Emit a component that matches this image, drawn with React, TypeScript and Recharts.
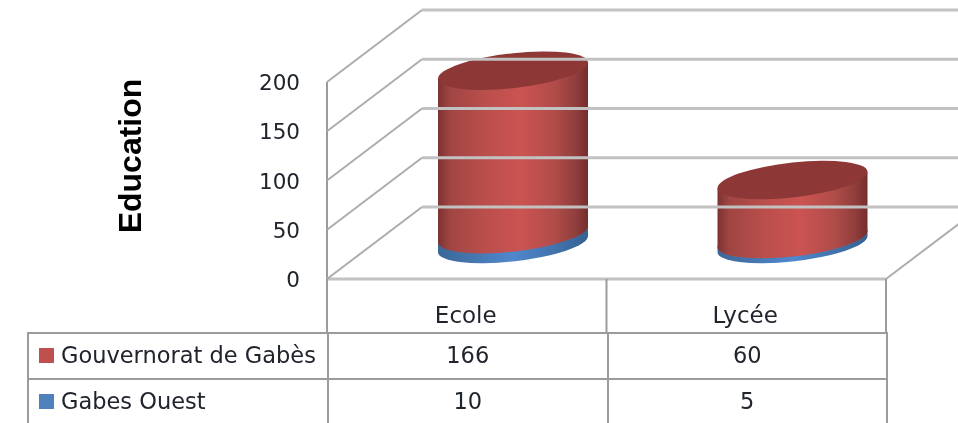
import React from "react";
import { BarChart, Bar, XAxis, YAxis, Label } from "recharts";

const categories = ["Ecole", "Lycée"];
const gouvernorat = [166, 60];
const gabesOuest = [10, 5];
const yTicks = [0, 50, 100, 150, 200];
const seriesNames = ["Gouvernorat de Gabès", "Gabes Ouest"];
const rows = categories.map((c, i) => ({ name: c, gouv: gouvernorat[i], ouest: gabesOuest[i] }));

const W = 958, H = 423;
const PLOT_LEFT = 327, PLOT_RIGHT = 886, PLOT_TOP = 82, PLOT_BOTTOM = 279, TABLE_TOP = 333;
const DX = 95, DY = 72;
const GRID = "#c2c2c2", SIDE = "#adadad", FRAME = "#9b9b9b";
const FONT = "'DejaVu Sans', sans-serif";
const TEXT = "#20242c";
const FS = 21.5;
const TABLE_FS = 22.5;

const YTick = (p: any) => {
  const y = p.y;
  const isFloor = p.payload.value === 0;
  return (
    <g>
      <line x1={PLOT_LEFT} y1={y} x2={PLOT_LEFT + DX} y2={y - DY} stroke={SIDE} strokeWidth={2} />
      <line x1={PLOT_LEFT + DX} y1={y - DY} x2={W} y2={y - DY} stroke={GRID} strokeWidth={3} />
      {isFloor && (
        <line x1={PLOT_RIGHT} y1={y} x2={PLOT_RIGHT + DX} y2={y - DY} stroke={SIDE} strokeWidth={2} />
      )}
      <text x={PLOT_LEFT - 27} y={y + 8} textAnchor="end" fontFamily={FONT} fontSize={FS} fill={TEXT}>
        {p.payload.value}
      </text>
    </g>
  );
};

const XTick = (p: any) => {
  const half = (PLOT_RIGHT - PLOT_LEFT) / categories.length / 2;
  return (
    <g>
      {p.index === 0 && (
        <line x1={p.x - half} y1={PLOT_BOTTOM} x2={p.x - half} y2={TABLE_TOP} stroke={FRAME} strokeWidth={2} />
      )}
      <line x1={p.x + half} y1={PLOT_BOTTOM} x2={p.x + half} y2={TABLE_TOP} stroke={FRAME} strokeWidth={2} />
      <text x={p.x - 1} y={PLOT_BOTTOM + 44} textAnchor="middle" fontFamily={FONT} fontSize={TABLE_FS + 0.5} fill={TEXT}>
        {p.payload.value}
      </text>
    </g>
  );
};

const Cylinder = (p: any) => {
  const { x, y, width, height, bodyId, cap } = p;
  const rx = width / 2;
  const ry = 17.5;
  const shear = -0.107;
  const cx = x + rx + DX / 2 - 1.5;
  const top = y - DY / 2 + 1;
  const bottom = y + height - DY / 2 + 1;
  const t = (yy: number) => `matrix(1 ${shear} 0 1 ${cx} ${yy})`;
  const h = bottom - top;
  return (
    <g>
      <path
        transform={t(top)}
        d={`M ${-rx} 0 L ${-rx} ${h} A ${rx} ${ry} 0 0 0 ${rx} ${h} L ${rx} 0 Z`}
        fill={`url(#${bodyId})`}
      />
      <ellipse transform={t(top)} cx={0} cy={0} rx={rx} ry={ry} fill={cap} />
    </g>
  );
};

const TableCell = ({ children, width }: any) => (
  <td
    style={{
      width,
      padding: "0 0 2px 0",
      border: `2px solid ${FRAME}`,
      textAlign: "center",
      fontFamily: FONT,
      fontSize: TABLE_FS,
      color: TEXT,
      boxSizing: "border-box",
    }}
  >
    {children}
  </td>
);

const tableColors = ["#c0504d", "#4f81bd"];
const tableValues = [gouvernorat, gabesOuest];

export default function App() {
  return (
    <div style={{ position: "absolute", left: 0, top: 0, width: W, height: H, overflow: "hidden", background: "#fff", filter: "blur(0.45px)" }}>
      <BarChart
        width={W}
        height={H}
        data={rows}
        barSize={150}
        barGap={0}
        margin={{ top: PLOT_TOP, right: W - PLOT_RIGHT, bottom: 0, left: PLOT_LEFT - 100 }}
      >
        <defs>
          <linearGradient id="redBody" x1="0" y1="0" x2="1" y2="0">
            <stop offset="0" stopColor="#7c3331" />
            <stop offset="0.08" stopColor="#a04543" />
            <stop offset="0.3" stopColor="#b94e4b" />
            <stop offset="0.55" stopColor="#cb5452" />
            <stop offset="0.78" stopColor="#b04c49" />
            <stop offset="0.92" stopColor="#8f3e3c" />
            <stop offset="1" stopColor="#752d2b" />
          </linearGradient>
          <linearGradient id="blueBody" x1="0" y1="0" x2="1" y2="0">
            <stop offset="0" stopColor="#3b6797" />
            <stop offset="0.5" stopColor="#5088cc" />
            <stop offset="1" stopColor="#356292" />
          </linearGradient>
        </defs>
        <YAxis
          width={100}
          domain={[0, 200]}
          ticks={yTicks}
          interval={0}
          tickLine={false}
          axisLine={{ stroke: FRAME, strokeWidth: 2 }}
          tick={YTick}
        >
          <Label
            content={() => (
              <text
                transform="translate(141 156) rotate(-90)"
                textAnchor="middle"
                style={{ fontFamily: "'Liberation Sans', Arial, sans-serif" }}
                fontWeight="bold"
                fontSize={32}
                fill="#000"
              >
                Education
              </text>
            )}
          />
        </YAxis>
        <XAxis
          dataKey="name"
          height={H - PLOT_BOTTOM}
          tickLine={false}
          axisLine={{ stroke: GRID, strokeWidth: 3 }}
          tick={XTick}
        />
        <Bar
          dataKey="ouest"
          stackId="a"
          isAnimationActive={false}
          shape={(p: any) => <Cylinder {...p} bodyId="blueBody" cap="#4f81bd" />}
        />
        <Bar
          dataKey="gouv"
          stackId="a"
          isAnimationActive={false}
          shape={(p: any) => <Cylinder {...p} bodyId="redBody" cap="#8d3836" />}
        />
      </BarChart>
      <table
        style={{
          position: "absolute",
          left: 27,
          top: TABLE_TOP - 1,
          borderCollapse: "collapse",
          tableLayout: "fixed",
          width: 859,
        }}
      >
        <tbody>
          {seriesNames.map((name, r) => (
            <tr key={name} style={{ height: 46 }}>
              <td
                style={{
                  width: 300,
                  padding: "0 0 2px 10px",
                  border: `2px solid ${FRAME}`,
                  fontFamily: FONT,
                  fontSize: TABLE_FS,
                  color: TEXT,
                  whiteSpace: "nowrap",
                  boxSizing: "border-box",
                }}
              >
                <span style={{ display: "inline-block", width: 15, height: 15, background: tableColors[r], marginRight: 7 }} />
                {name}
              </td>
              {tableValues[r].map((v, c) => (
                <TableCell key={c} width={279.5}>
                  {v}
                </TableCell>
              ))}
            </tr>
          ))}
        </tbody>
      </table>
    </div>
  );
}
